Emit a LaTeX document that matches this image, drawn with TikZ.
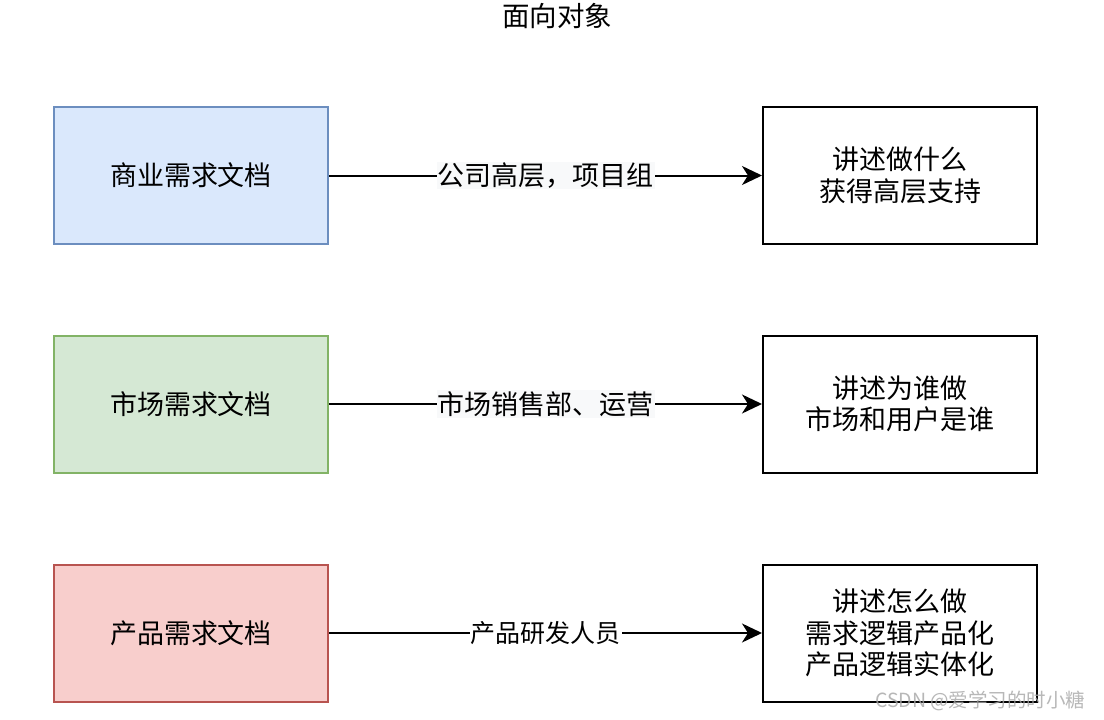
\documentclass[tikz,border=0pt]{standalone}
\usepackage{fontspec}
\setmainfont{Noto Sans CJK SC}
\usetikzlibrary{arrows.meta}
\definecolor{bluefill}{HTML}{DAE8FC}\definecolor{bluedraw}{HTML}{6C8EBF}
\definecolor{greenfill}{HTML}{D5E8D4}\definecolor{greendraw}{HTML}{82B366}
\definecolor{redfill}{HTML}{F8CECC}\definecolor{reddraw}{HTML}{B85450}
\definecolor{lblbg}{HTML}{F8F9FA}
\tikzset{
  doc/.style={draw, line width=2pt, minimum width=274pt, minimum height=137pt, inner sep=0pt,
    font=\fontsize{27}{31.5}\selectfont, align=center},
  conn/.style={line width=2pt, -{Stealth[length=20pt,width=19pt,inset=6pt]}},
  lbl/.style={fill=lblbg, inner sep=1pt, font=\fontsize{27}{30}\selectfont},
}
\begin{document}
\begin{tikzpicture}[x=1pt,y=-1pt]
\useasboundingbox (0,0) rectangle (1104,720);
\node[font=\fontsize{27.5}{30}\selectfont] (title) at (557,16) {面向对象};
\node[doc, fill=bluefill, draw=bluedraw] (b1) at (191,175.5) {商业需求文档};
\node[doc, fill=greenfill, draw=greendraw] (m1) at (191,404) {市场需求文档};
\node[doc, fill=redfill, draw=reddraw] (p1) at (191,633) {产品需求文档};
\node[doc, fill=white] (b2) at (900,175.5) {讲述做什么\\获得高层支持};
\node[doc, fill=white] (m2) at (900,404) {讲述为谁做\\市场和用户是谁};
\node[doc, fill=white] (p2) at (900,633) {讲述怎么做\\需求逻辑产品化\\产品逻辑实体化};
\draw[conn] (b1) -- node[lbl] {公司高层，项目组} (b2);
\draw[conn] (m1) -- node[lbl] {市场销售部、运营} (m2);
\draw[conn] (p1) -- node[lbl, fill=white, font=\fontsize{25}{28}\selectfont] {产品研发人员} (p2);
\node[anchor=east, text=gray!70, opacity=0.8, font=\fontsize{19.5}{22}\selectfont] (wm) at (1089,701) {CSDN @爱学习的时小糖};
\end{tikzpicture}
\end{document}
